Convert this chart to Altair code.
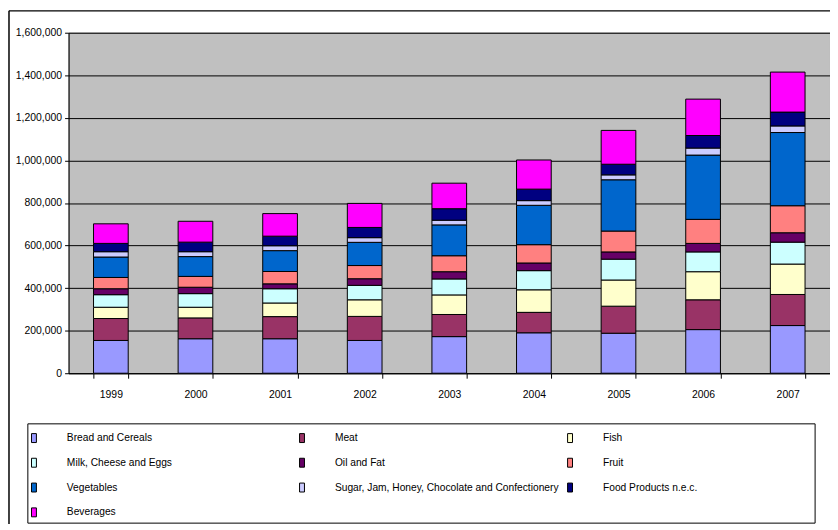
import altair as alt
import pandas as pd

years = ["1999", "2000", "2001", "2002", "2003", "2004", "2005", "2006", "2007"]
categories = [
    "Bread and Cereals", "Meat", "Fish",
    "Milk, Cheese and Eggs", "Oil and Fat", "Fruit",
    "Vegetables", "Sugar, Jam, Honey, Chocolate and Confectionery", "Food Products n.e.c.",
    "Beverages",
]
colors = ["#9999FF", "#993366", "#FFFFCC", "#CCFFFF", "#660066", "#FF8080",
          "#0066CC", "#CCCCFF", "#000080", "#FF00FF"]

bread = [154000, 162000, 162000, 154000, 172000, 190000, 188000, 205000, 224000]
meat = [103000, 98000, 104000, 113000, 104000, 96000, 127000, 140000, 146000]
fish = [53000, 50000, 64000, 78000, 92000, 106000, 123000, 132000, 143000]
milk = [59000, 64000, 67000, 68000, 75000, 90000, 98000, 93000, 103000]
oil = [28000, 30000, 23000, 31000, 34000, 36000, 34000, 40000, 44000]
fruit = [53000, 51000, 58000, 62000, 75000, 86000, 98000, 113000, 127000]
vegetables = [96000, 93000, 98000, 109000, 145000, 185000, 241000, 302000, 344000]
sugar = [25000, 23000, 23000, 22000, 22000, 22000, 23000, 33000, 31000]
food_nec = [39000, 45000, 45000, 48000, 54000, 54000, 50000, 59000, 65000]
beverages = [92000, 98000, 106000, 113000, 120000, 137000, 159000, 171000, 188000]

series = [bread, meat, fish, milk, oil, fruit, vegetables, sugar, food_nec, beverages]
y_ticks = [0, 200000, 400000, 600000, 800000, 1000000, 1200000, 1400000, 1600000]

rows = []
for i, (cat, vals) in enumerate(zip(categories, series)):
    for yr, v in zip(years, vals):
        rows.append({"year": yr, "category": cat, "value": v, "idx": i})
df = pd.DataFrame(rows)

W, H = 767, 343
FONT = "Liberation Sans"

bars = alt.Chart(df).mark_bar(stroke="black", strokeWidth=1).encode(
    x=alt.X("year:N", title=None, sort=years,
            scale=alt.Scale(paddingInner=0.59, paddingOuter=0.295),
            axis=alt.Axis(labelAngle=0, tickBand="extent", tickSize=5, labelPadding=11,
                          domainColor="black", tickColor="black", labelColor="black",
                          labelFont=FONT, labelFontSize=10.5, grid=False)),
    y=alt.Y("value:Q", title=None, stack="zero",
            scale=alt.Scale(domain=[0, 1600000], nice=False),
            axis=alt.Axis(values=y_ticks, format=",d", grid=True, gridColor="black",
                          gridWidth=1, tickSize=4, labelPadding=3, domainColor="black",
                          tickColor="black", labelColor="black", labelFont=FONT,
                          labelFontSize=10.5)),
    color=alt.Color("category:N",
                    scale=alt.Scale(domain=categories, range=colors),
                    legend=alt.Legend(title=None, orient="none", legendX=-40, legendY=403,
                                      direction="horizontal",
                                      columns=3, gridAlign="all", columnPadding=6,
                                      rowPadding=11, padding=0,
                                      symbolType="M-0.55,-1H0.55V1H-0.55Z",
                                      symbolSize=81, symbolStrokeColor="black",
                                      symbolStrokeWidth=1, labelOffset=28,
                                      labelFont=FONT, labelFontSize=10.3,
                                      labelColor="black", labelLimit=400)),
    order=alt.Order("idx:Q", sort="ascending"),
)

one = pd.DataFrame({"a": [0]})
frame_left = alt.Chart(one).mark_rule(color="black", strokeWidth=1.5).encode(
    x=alt.value(-60), y=alt.value(-22), y2=alt.value(H + 152))
frame_top = alt.Chart(one).mark_rule(color="black", strokeWidth=1.5).encode(
    x=alt.value(-60), x2=alt.value(W), y=alt.value(-22))
legend_box = alt.Chart(one).mark_rect(fill="white", fillOpacity=0, stroke="black",
                                      strokeWidth=1).encode(
    x=alt.value(-41), x2=alt.value(752), y=alt.value(394), y2=alt.value(494))

chart = alt.layer(bars, frame_left, frame_top, legend_box).properties(
    width=W, height=H, autosize="none",
    padding={"left": 61, "top": 23, "right": 0, "bottom": 152},
    background="white",
).configure_view(fill="#C0C0C0", stroke="#808080", strokeWidth=1)

chart.save("out.html", embed_options={"renderer": "svg", "actions": False})
